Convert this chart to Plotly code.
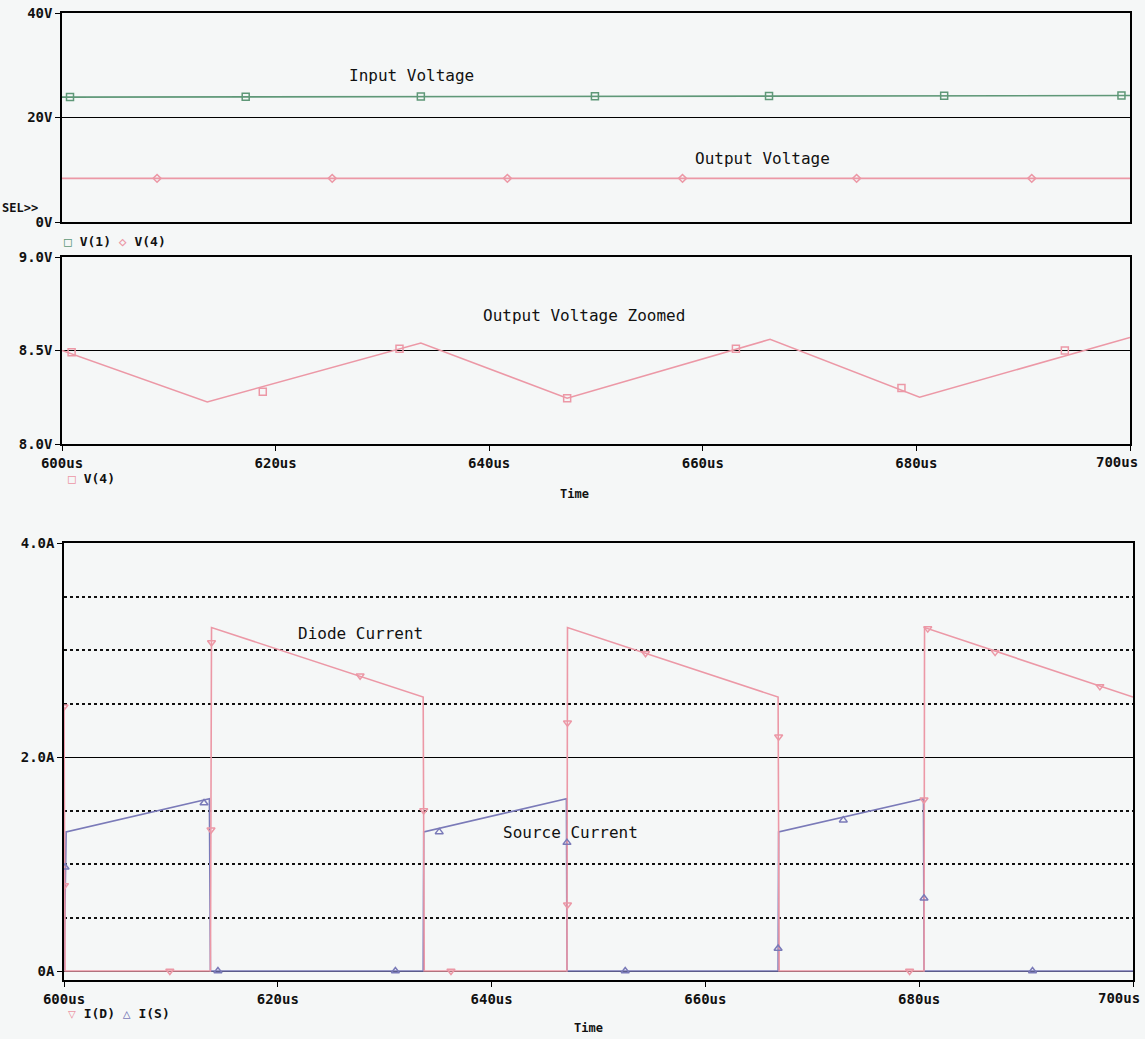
import plotly.graph_objects as go

W, H = 1145, 1039

# ---------------- data ----------------
# Panel 1: V(1) input voltage, V(4) output voltage
v1_t = [600.0, 700.0]
v1_v = [23.9, 24.2]
v1_mark_t = [600.75, 617.2, 633.6, 649.9, 666.2, 682.6, 699.2]
v1_mark_v = [23.9, 23.95, 24.0, 24.05, 24.1, 24.15, 24.2]

v4a_t = [600.0, 700.0]
v4a_v = [8.35, 8.35]
v4a_mark_t = [608.9, 625.3, 641.7, 658.1, 674.4, 690.8]
v4a_mark_v = [8.35, 8.35, 8.35, 8.35, 8.35, 8.35]

# Panel 2: V(4) zoomed
v4_t = [600.0, 613.6, 633.6, 647.3, 666.3, 680.3, 700.0]
v4_v = [8.50, 8.225, 8.54, 8.245, 8.56, 8.25, 8.57]
v4_mark_t = [600.9, 618.8, 631.6, 647.3, 663.1, 678.6, 693.9]
v4_mark_v = [8.49, 8.28, 8.51, 8.245, 8.51, 8.30, 8.50]

# Panel 3: I(D) diode current, I(S) source current
id_t = [600.0, 600.1, 613.7, 613.8, 633.6, 633.7, 647.05, 647.1, 666.8, 666.9, 680.45, 680.5, 700.0]
id_v = [2.47, 0.0, 0.0, 3.21, 2.56, 0.0, 0.0, 3.21, 2.56, 0.0, 0.0, 3.21, 2.56]
id_mark_t = [600.0, 600.05, 609.9, 613.75, 613.8, 627.7, 633.65, 636.2, 647.1, 647.1,
             654.4, 666.85, 679.1, 680.45, 680.8, 687.1, 696.9]
id_mark_v = [2.47, 0.80, 0.0, 1.32, 3.07, 2.76, 1.50, 0.0, 0.62, 2.32,
             2.97, 2.19, 0.0, 1.60, 3.20, 2.98, 2.66]

is_t = [600.0, 600.2, 613.6, 613.7, 633.6, 633.65, 647.0, 647.05, 666.8, 666.85, 680.4, 680.45, 700.0]
is_v = [0.0, 1.30, 1.61, 0.0, 0.0, 1.30, 1.61, 0.0, 0.0, 1.30, 1.61, 0.0, 0.0]
is_mark_t = [600.1, 613.1, 614.4, 631.0, 635.1, 647.05, 652.5, 666.8, 672.9, 680.45, 690.6]
is_mark_v = [0.97, 1.57, 0.0, 0.0, 1.30, 1.20, 0.0, 0.21, 1.41, 0.68, 0.0]

x_ticks = [600, 620, 640, 660, 680, 700]
x_tick_text = ["600us", "620us", "640us", "660us", "680us", ""]
x_last_label = "700us"   # PSpice pulls the last label inside the frame

# ---------------- style ----------------
GREEN = "#5f9878"
PINK = "#ec98a6"
BLUE = "#7a7ab8"
BG = "#f5f7f7"
MONO = "DejaVu Sans Mono"

def fx(px):
    return px / W

def fy(py):
    return 1 - py / H

fig = go.Figure()

def line(x, y, color, xa, ya):
    fig.add_trace(go.Scatter(x=x, y=y, mode="lines", line=dict(color=color, width=1.6),
                             xaxis=xa, yaxis=ya, showlegend=False, hoverinfo="skip"))

def marks(x, y, color, symbol, xa, ya, size=7):
    fig.add_trace(go.Scatter(x=x, y=y, mode="markers",
                             marker=dict(symbol=symbol, size=size, color=color,
                                         line=dict(color=color, width=1.5)),
                             xaxis=xa, yaxis=ya, showlegend=False, hoverinfo="skip"))

# Panel 1
line(v1_t, v1_v, GREEN, "x", "y")
marks(v1_mark_t, v1_mark_v, GREEN, "square-open", "x", "y")
line(v4a_t, v4a_v, PINK, "x", "y")
marks(v4a_mark_t, v4a_mark_v, PINK, "diamond-open", "x", "y", size=6)

# Panel 2
line(v4_t, v4_v, PINK, "x2", "y2")
marks(v4_mark_t, v4_mark_v, PINK, "square-open", "x2", "y2")

# Panel 3
line(is_t, is_v, BLUE, "x3", "y3")
line(id_t, id_v, PINK, "x3", "y3")
marks(is_mark_t, is_mark_v, BLUE, "triangle-up-open", "x3", "y3")
marks(id_mark_t, id_mark_v, PINK, "triangle-down-open", "x3", "y3")

tickfont = dict(family=MONO, size=14, color="#111", weight="bold")

def xaxis(dom, labels, anchor):
    return dict(domain=dom, range=[600, 700], anchor=anchor, automargin=False,
                showline=True, linecolor="black", linewidth=1.5, mirror=True,
                showgrid=False, zeroline=False, ticklabeloverflow="allow",
                tickmode="array", tickvals=x_ticks, ticktext=x_tick_text,
                showticklabels=labels, ticks="outside" if labels else "",
                ticklen=5, tickcolor="black", tickfont=tickfont)

def yaxis(dom, rng, vals, text, anchor, dotted=None):
    d = dict(domain=dom, range=rng, anchor=anchor, automargin=False,
             showline=True, linecolor="black", linewidth=1.5, mirror=True,
             showgrid=True, gridcolor="black", gridwidth=1.3, zeroline=False,
             ticklabeloverflow="allow",
             tickmode="array", tickvals=vals, ticktext=text,
             ticks="outside", ticklen=5, tickcolor="black", tickfont=tickfont)
    if dotted is not None:
        d["minor"] = dict(tickmode="array", tickvals=dotted, showgrid=True,
                          gridcolor="#111", griddash="dot", gridwidth=1.6, ticks="")
    return d

xd12 = [fx(62), fx(1130)]
xd3 = [fx(64), fx(1133)]

fig.update_layout(
    width=W, height=H,
    margin=dict(l=0, r=0, t=0, b=0, autoexpand=False),
    paper_bgcolor=BG, plot_bgcolor=BG,
    showlegend=False,
    xaxis=xaxis(xd12, False, "y"),
    yaxis=yaxis([fy(222), fy(13)], [0, 40], [0, 20, 40], ["0V", "20V", "40V"], "x"),
    xaxis2=xaxis(xd12, True, "y2"),
    yaxis2=yaxis([fy(444), fy(257)], [8.0, 9.0], [8.0, 8.5, 9.0], ["8.0V", "8.5V", "9.0V"], "x2"),
    xaxis3=xaxis(xd3, True, "y3"),
    yaxis3=yaxis([fy(980), fy(543)], [-0.084, 4.0], [0, 2, 4], ["0A", "2.0A", "4.0A"], "x3",
                 dotted=[0.5, 1.0, 1.5, 2.5, 3.0, 3.5]),
)

def text(px, py, s, size=17, bold=False, xanchor="center"):
    fig.add_annotation(x=fx(px), y=fy(py), xref="paper", yref="paper", text=s,
                       showarrow=False, xanchor=xanchor, yanchor="middle",
                       font=dict(family=MONO, size=size, color="#111",
                                 weight="bold" if bold else "normal"))

text(412, 76, "Input Voltage", size=16)
text(762, 158, "Output Voltage", size=16)
text(584, 315, "Output Voltage Zoomed", size=16)
text(360, 633, "Diode Current", size=16)
text(570, 832, "Source Current", size=16)
text(0, 208, "SEL>>", size=12, bold=True, xanchor="left")

text(62, 241, f'<span style="color:{GREEN}">□</span> V(1) <span style="color:{PINK}">◇</span> V(4)',
     size=13, bold=True, xanchor="left")
text(66, 478, f'<span style="color:{PINK}">□</span> V(4)', size=13, bold=True, xanchor="left")
text(66, 1013, f'<span style="color:{PINK}">▽</span> I(D) <span style="color:{BLUE}">△</span> I(S)',
     size=13, bold=True, xanchor="left")

# last x tick label, right-aligned at the frame edge
text(1140, 462, x_last_label, size=14, bold=True, xanchor="right")
text(1142, 998, x_last_label, size=14, bold=True, xanchor="right")

text(574, 494, "Time", size=12, bold=True)
text(588, 1028, "Time", size=12, bold=True)

fig.write_html("out.html", config={"displayModeBar": False},
               post_script="document.body.style.margin='0';document.body.style.overflow='hidden';")
